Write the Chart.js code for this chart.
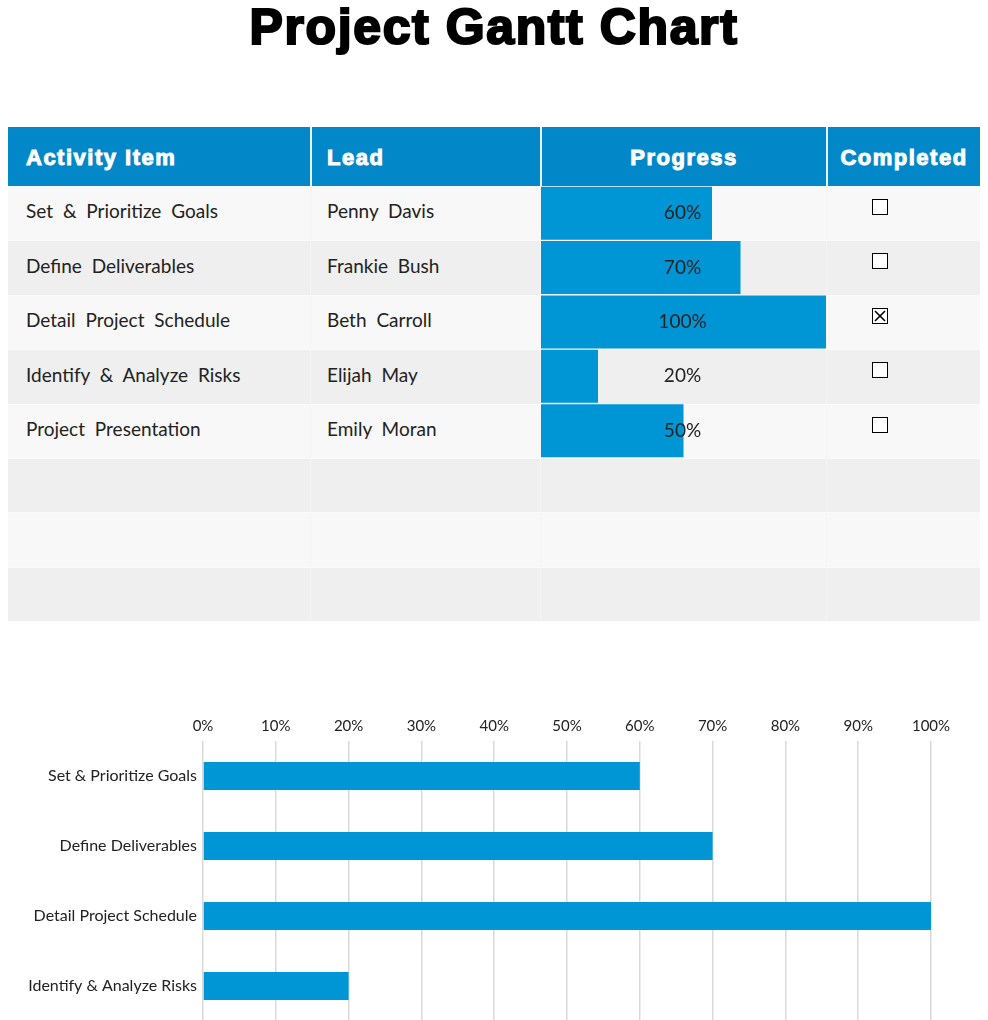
<!DOCTYPE html>
<html><head><meta charset="utf-8">
<script src="https://cdn.jsdelivr.net/npm/chart.js@4.4.1/dist/chart.umd.min.js"></script>
<style>
html,body{margin:0;padding:0;background:#fff;}
body{width:988px;height:1020px;position:relative;overflow:hidden;font-family:Lato,"Noto Sans",sans-serif;color:#222;}
#title{position:absolute;left:0;top:-1px;width:988px;text-align:center;font-family:"Liberation Sans",Arial,sans-serif;font-weight:bold;font-size:50px;line-height:57px;color:#000;-webkit-text-stroke:2.2px #000;letter-spacing:1.6px;}
.cell{position:absolute;box-sizing:border-box;display:flex;align-items:center;white-space:nowrap;}
.hdr{background:#0288c8;color:#fff;font-family:"Liberation Sans",Arial,sans-serif;font-weight:bold;font-size:22px;-webkit-text-stroke:1px #fff;letter-spacing:1.5px;padding-top:2px;}
.body{font-size:19px;word-spacing:5px;padding-bottom:5px;}
.box{position:absolute;width:16px;height:16px;box-sizing:border-box;border:1px solid #000;background:#fff;}
#progWrap{position:absolute;left:541px;top:186px;width:285px;height:435px;}
#ganttWrap{position:absolute;left:0;top:700px;width:988px;height:391px;}
</style>
</head><body>
<div id="title">Project Gantt Chart</div>
<div id="table"></div>
<div id="progWrap"><canvas id="prog"></canvas></div>
<div id="ganttWrap"><canvas id="gantt"></canvas></div>
<script>
// ---- data ----
const headers = ["Activity Item", "Lead", "Progress", "Completed"];
const activities = ["Set & Prioritize Goals", "Define Deliverables", "Detail Project Schedule", "Identify & Analyze Risks", "Project Presentation"];
const leads = ["Penny Davis", "Frankie Bush", "Beth Carroll", "Elijah May", "Emily Moran"];
const progress = [60, 70, 100, 20, 50];
const completed = [false, false, true, false, false];
const xTicks = [0, 10, 20, 30, 40, 50, 60, 70, 80, 90, 100];
const emptyRows = 3;

// ---- table layout ----
const colX = [8, 310, 540, 826, 980];
const headTop = 127, headH = 59, rowH = 54.375;
const totalRows = activities.length + emptyRows;
const table = document.getElementById('table');
function cell(x, y, w, h, cls, html, style) {
  const d = document.createElement('div');
  d.className = 'cell ' + cls;
  d.style.left = x + 'px'; d.style.top = y + 'px'; d.style.width = w + 'px'; d.style.height = h + 'px';
  if (style) Object.assign(d.style, style);
  d.innerHTML = html;
  table.appendChild(d);
  return d;
}
headers.forEach((h, i) => {
  const w = colX[i + 1] - colX[i];
  const st = { borderLeft: i ? '2px solid #e6f3fa' : 'none' };
  if (i < 2) st.paddingLeft = (i === 0 ? 18 : 15) + 'px';
  else st.justifyContent = 'center';
  cell(colX[i], headTop, w, headH, 'hdr', h, st);
});
for (let r = 0; r < totalRows; r++) {
  const y = headTop + headH + r * rowH;
  const bg = r % 2 === 0 ? '#f8f8f8' : '#efefef';
  for (let c = 0; c < 4; c++) {
    const w = colX[c + 1] - colX[c];
    const st = { background: bg, borderLeft: c ? '1px solid #f5f5f5' : 'none', borderTop: r ? '1px solid #fafafa' : 'none' };
    let txt = '';
    if (r < activities.length) {
      if (c === 0) { txt = activities[r].replace(/&/g, '&amp;'); st.paddingLeft = '18px'; }
      if (c === 1) { txt = leads[r]; st.paddingLeft = '16px'; }
    }
    cell(colX[c], y, w, rowH, 'body', txt, st);
  }
  if (r < activities.length) {
    const b = document.createElement('div');
    b.className = 'box';
    b.style.left = '872px'; b.style.top = (y + 13) + 'px';
    if (completed[r]) b.innerHTML = '<svg width="14" height="14" style="display:block"><line x1="2" y1="2" x2="12" y2="12" stroke="#000" stroke-width="1.6"/><line x1="12" y1="2" x2="2" y2="12" stroke="#000" stroke-width="1.6"/></svg>';
    table.appendChild(b);
  }
}

Chart.defaults.font.family = 'Lato, "Noto Sans", sans-serif';
Chart.defaults.color = '#222';

// ---- progress bars inside the table ----
const progLabels = activities.concat(Array(emptyRows).fill(''));
const progData = progress.concat(Array(emptyRows).fill(null));
const pctLabelPlugin = {
  id: 'pctLabels',
  afterDatasetsDraw(chart) {
    const ctx = chart.ctx, ys = chart.scales.y, xa = chart.chartArea;
    ctx.save();
    ctx.font = '19px Lato, "Noto Sans", sans-serif';
    ctx.fillStyle = '#222';
    ctx.textAlign = 'center';
    ctx.textBaseline = 'middle';
    progress.forEach((v, i) => {
      ctx.fillText(v + '%', (xa.left + xa.right) / 2 - 1, ys.getPixelForValue(i));
    });
    ctx.restore();
  }
};
new Chart(document.getElementById('prog'), {
  type: 'bar',
  data: { labels: progLabels, datasets: [{ data: progData, backgroundColor: '#0096d6', barPercentage: 1, categoryPercentage: 0.975 }] },
  options: {
    indexAxis: 'y', responsive: true, maintainAspectRatio: false, animation: false,
    layout: { padding: 0 },
    plugins: { legend: { display: false }, tooltip: { enabled: false } },
    scales: {
      x: { display: false, min: 0, max: 100 },
      y: { display: false }
    }
  },
  plugins: [pctLabelPlugin]
});

// ---- gantt chart ----
new Chart(document.getElementById('gantt'), {
  type: 'bar',
  data: { labels: activities, datasets: [{ data: progress, backgroundColor: '#0096d6', barPercentage: 0.4, categoryPercentage: 1 }] },
  options: {
    indexAxis: 'y', responsive: true, maintainAspectRatio: false, animation: false,
    layout: { padding: { left: 0, right: 57, top: 0, bottom: 0 } },
    plugins: { legend: { display: false }, tooltip: { enabled: false } },
    scales: {
      x: {
        position: 'top', min: 0, max: 100,
        afterBuildTicks(s) { s.ticks = xTicks.map(v => ({ value: v })); },
        ticks: { callback: v => v + '%', font: { size: 15 }, padding: 6, color: '#222', maxRotation: 0 },
        grid: { color: '#d9d9d9', lineWidth: 1.5, drawTicks: false },
        border: { display: false },
        afterFit(s) { s.height = 41; s.paddingLeft = 0; s.paddingRight = 0; }
      },
      y: {
        ticks: { font: { size: 16 }, padding: 6, color: '#222' },
        grid: { display: false, drawTicks: false },
        border: { display: false },
        afterFit(s) { s.width = 203; s.paddingTop = 0; s.paddingBottom = 0; }
      }
    }
  }
});
</script>
</body></html>
